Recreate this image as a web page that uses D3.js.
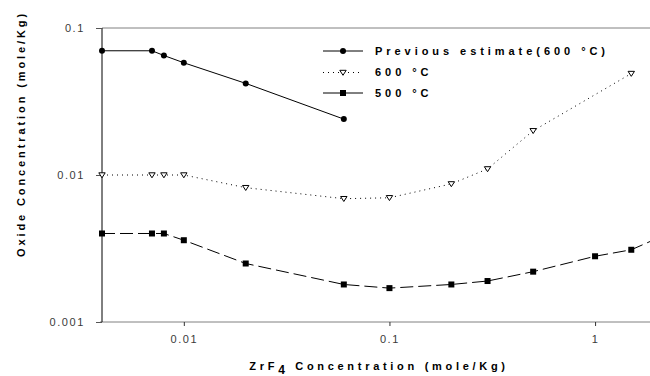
<!DOCTYPE html>
<html>
<head>
<meta charset="utf-8">
<script src="https://cdn.jsdelivr.net/npm/d3@7/dist/d3.min.js"></script>
<style>
  html, body { margin: 0; padding: 0; background: #fff; }
  svg { display: block; }
  .tick-label { font-family: "Liberation Sans", Arial, sans-serif; font-size: 11px; fill: #3a3a3a; letter-spacing: 1.6px; }
  .title { font-family: "Liberation Sans", Arial, sans-serif; font-size: 11px; font-weight: bold; fill: #000; }
</style>
</head>
<body>
<svg id="chart" width="650" height="376"></svg>
<script>
// ZrF4 concentration (mole/Kg) at each measurement
const prevConc = [0.004, 0.007, 0.008, 0.01, 0.02, 0.06];
const prevOxide = [0.07, 0.07, 0.065, 0.058, 0.042, 0.024];

const conc600 = [0.004, 0.007, 0.008, 0.01, 0.02, 0.06, 0.1, 0.2, 0.3, 0.5, 1.5];
const oxide600 = [0.01, 0.01, 0.01, 0.01, 0.0082, 0.0069, 0.007, 0.0087, 0.011, 0.02, 0.049];

const conc500 = [0.004, 0.007, 0.008, 0.01, 0.02, 0.06, 0.1, 0.2, 0.3, 0.5, 1, 1.5, 2];
const oxide500 = [0.004, 0.004, 0.004, 0.0036, 0.0025, 0.0018, 0.0017, 0.0018, 0.0019, 0.0022, 0.0028, 0.0031, 0.0037];

const xTickValues = [0.01, 0.1, 1];
const xTickLabels = ["0.01", "0.1", "1"];
const yTickValues = [0.001, 0.01, 0.1];
const yTickLabels = ["0.001", "0.01", "0.1"];

const seriesNames = ["Previous estimate(600 \u00B0C)", "600 \u00B0C", "500 \u00B0C"];

const svg = d3.select("#chart");
const W = 650, H = 376;

const x = d3.scaleLog().domain([0.004, 1.85]).range([102, 650]);
const y = d3.scaleLog().domain([0.001, 0.1]).range([322, 28]);

const zip = (xs, ys) => xs.map((v, i) => ({ x: v, y: ys[i] }));
const series = [
  { name: seriesNames[0], data: zip(prevConc, prevOxide), dash: null, marker: "circle" },
  { name: seriesNames[1], data: zip(conc600, oxide600), dash: "1,4", marker: "triangle" },
  { name: seriesNames[2], data: zip(conc500, oxide500), dash: "13,5", marker: "square" }
];

// frame line along the top of the plot
svg.append("line")
  .attr("x1", x.range()[0]).attr("x2", W)
  .attr("y1", y(0.1)).attr("y2", y(0.1))
  .attr("stroke", "#808080").attr("stroke-width", 1);

// bottom axis
const xAxis = d3.axisBottom(x).tickValues(xTickValues).tickSize(4).tickFormat((d, i) => xTickLabels[i]);
const gx = svg.append("g").attr("transform", `translate(0,${y(0.001)})`).call(xAxis);
gx.select(".domain").attr("stroke", "#808080").attr("d", `M${x.range()[0] - 2},0H${W}`);
gx.selectAll(".tick line").attr("stroke", "#333");
gx.selectAll(".tick text").attr("class", "tick-label").attr("y", 13).attr("dy", "0.71em").attr("font-size", null).attr("font-family", null).attr("fill", null);

// left axis
const yAxis = d3.axisLeft(y).tickValues(yTickValues).tickSize(6).tickFormat((d, i) => yTickLabels[i]);
const gy = svg.append("g").attr("transform", `translate(${x.range()[0]},0)`).call(yAxis);
gy.select(".domain").attr("stroke", "#000").attr("d", `M0,${y(0.1)}V${y(0.001)}`);
gy.selectAll(".tick line").attr("stroke", "#555");
gy.selectAll(".tick text").attr("class", "tick-label").attr("x", -17).attr("font-size", null).attr("font-family", null).attr("fill", null);

// series lines
const line = d3.line().x(d => x(d.x)).y(d => y(d.y));
const plot = svg.append("g");
series.forEach(s => {
  plot.append("path")
    .datum(s.data)
    .attr("fill", "none")
    .attr("stroke", "#000")
    .attr("stroke-width", 1)
    .attr("stroke-dasharray", s.dash)
    .attr("d", line);
});

function drawMarker(g, type, cx, cy) {
  if (type === "circle") {
    g.append("circle").attr("cx", cx).attr("cy", cy).attr("r", 3).attr("fill", "#000");
  } else if (type === "square") {
    g.append("rect").attr("x", cx - 3).attr("y", cy - 3).attr("width", 6).attr("height", 6).attr("fill", "#000");
  } else {
    g.append("path")
      .attr("d", `M${cx - 3.2},${cy - 2.2}L${cx + 3.2},${cy - 2.2}L${cx},${cy + 2.8}Z`)
      .attr("fill", "#fff").attr("stroke", "#000").attr("stroke-width", 1);
  }
}

series.forEach(s => {
  s.data.forEach(d => drawMarker(plot, s.marker, x(d.x), y(d.y)));
});

// legend
const legend = svg.append("g");
const legendRows = [51, 72.5, 93];
series.forEach((s, i) => {
  const ly = legendRows[i];
  legend.append("line")
    .attr("x1", 323).attr("x2", 363).attr("y1", ly).attr("y2", ly)
    .attr("stroke", "#000").attr("stroke-width", 1)
    .attr("stroke-dasharray", s.marker === "triangle" ? s.dash : null);
  drawMarker(legend, s.marker, 343, ly);
  legend.append("text")
    .attr("class", "title")
    .attr("x", 375).attr("y", ly).attr("dy", "0.35em")
    .attr("letter-spacing", "3.95px")
    .text(s.name);
});

// axis titles
const xt = svg.append("text")
  .attr("class", "title")
  .attr("x", 379).attr("y", 370)
  .attr("text-anchor", "middle")
  .attr("letter-spacing", "3.7px");
xt.append("tspan").text("ZrF");
xt.append("tspan").attr("dy", 4).attr("font-size", "12px").text("4");
xt.append("tspan").attr("dy", -4).text(" Concentration (mole/Kg)");

svg.append("text")
  .attr("class", "title")
  .attr("transform", "translate(25,134) rotate(-90)")
  .attr("text-anchor", "middle")
  .attr("letter-spacing", "2.9px")
  .text("Oxide Concentration (mole/Kg)");
</script>
</body>
</html>
